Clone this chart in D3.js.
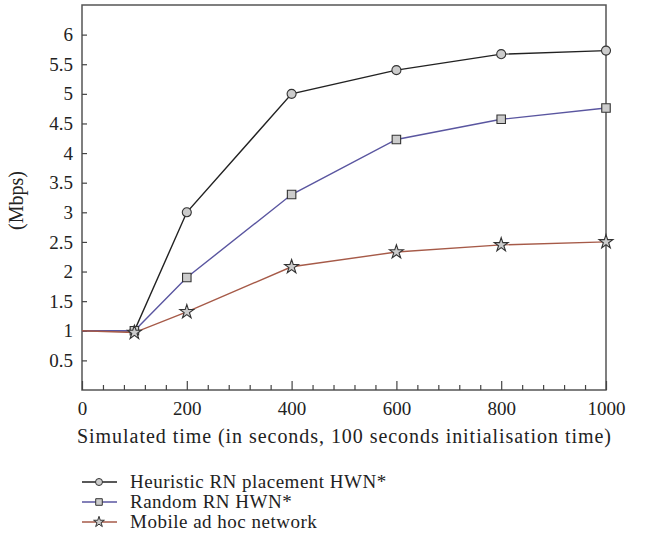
<!DOCTYPE html>
<html>
<head>
<meta charset="utf-8">
<script src="https://cdn.jsdelivr.net/npm/d3@7"></script>
<style>
  body { margin: 0; background: #fff; }
  svg text { font-family: "Liberation Serif", "DejaVu Serif", serif; }
</style>
</head>
<body>
<div id="chart"></div>
<script>
const times = [0, 100, 200, 400, 600, 800, 1000];
const heuristic = [1, 1, 3, 5, 5.4, 5.67, 5.73];
const random = [1, 1, 1.9, 3.3, 4.23, 4.57, 4.76];
const mobile = [1, 0.97, 1.32, 2.08, 2.33, 2.45, 2.5];
const xTicks = [0, 200, 400, 600, 800, 1000];
const yTicks = [0.5, 1, 1.5, 2, 2.5, 3, 3.5, 4, 4.5, 5, 5.5, 6];
const seriesNames = ["Heuristic RN placement HWN*", "Random RN HWN*", "Mobile ad hoc network"];

const width = 649;
const height = 558;
const margin = { top: 5, right: 43, bottom: 168, left: 82 };

const series = [
  { name: seriesNames[0], values: heuristic, color: "#222222", symbol: d3.symbolCircle, size: 64 },
  { name: seriesNames[1], values: random, color: "#5a56a0", symbol: d3.symbolSquare, size: 72 },
  { name: seriesNames[2], values: mobile, color: "#a65a48", symbol: d3.symbolStar, size: 60 },
];

const svg = d3.select("#chart").append("svg").attr("width", width).attr("height", height);

const x = d3.scaleLinear().domain([0, 1000]).range([margin.left, width - margin.right]);
const y = d3.scaleLinear().domain([0, 6.5]).range([height - margin.bottom, margin.top]);

// frame
svg
  .append("rect")
  .attr("x", x(0))
  .attr("y", y(6.5))
  .attr("width", x(1000) - x(0))
  .attr("height", y(0) - y(6.5))
  .attr("fill", "none")
  .attr("stroke", "#555")
  .attr("stroke-width", 1.5);

// x axis: minor ticks every 40, major every 200, all pointing inward
svg
  .append("g")
  .attr("transform", `translate(0,${y(0)})`)
  .call(d3.axisTop(x).tickValues(d3.range(40, 1000, 40).filter((v) => v % 200 !== 0)).tickSize(5).tickFormat(""))
  .call((g) => g.select(".domain").remove())
  .call((g) => g.selectAll("line").attr("stroke", "#444").attr("stroke-width", 1.2));

svg
  .append("g")
  .attr("transform", `translate(0,${y(0)})`)
  .call(d3.axisTop(x).tickValues(xTicks).tickSize(9).tickFormat(d3.format("d")))
  .call((g) => g.select(".domain").remove())
  .call((g) => g.selectAll("line").attr("stroke", "#444").attr("stroke-width", 1.2))
  .call((g) => g.selectAll("text").attr("y", 25).attr("font-size", 19).attr("fill", "#222"));

// y axis
svg
  .append("g")
  .attr("transform", `translate(${x(0)},0)`)
  .call(d3.axisRight(y).tickValues(yTicks).tickSize(5).tickFormat((d) => d))
  .call((g) => g.select(".domain").remove())
  .call((g) => g.selectAll("line").attr("stroke", "#444").attr("stroke-width", 1.2))
  .call((g) =>
    g
      .selectAll("text")
      .attr("x", -9)
      .attr("text-anchor", "end")
      .attr("font-size", 19)
      .attr("fill", "#222")
  );

// axis titles
svg
  .append("text")
  .attr("x", (x(0) + x(1000)) / 2)
  .attr("y", 443)
  .attr("text-anchor", "middle")
  .attr("font-size", 20)
  .attr("textLength", 534)
  .attr("lengthAdjust", "spacing")
  .attr("fill", "#222")
  .text("Simulated time (in seconds, 100 seconds initialisation time)");

svg
  .append("text")
  .attr("transform", `translate(23,${(y(0) + y(6.5)) / 2 + 3}) rotate(-90)`)
  .attr("text-anchor", "middle")
  .attr("font-size", 20)
  .attr("fill", "#222")
  .text("(Mbps)");

const line = d3
  .line()
  .x((d) => x(d[0]))
  .y((d) => y(d[1]));

series.forEach((s) => {
  s.points = times.map((t, i) => [t, s.values[i]]);
});

// lines (mobile last so the shared start segment is brown)
series.forEach((s) => {
  svg
    .append("path")
    .datum(s.points)
    .attr("fill", "none")
    .attr("stroke", s.color)
    .attr("stroke-width", 1.4)
    .attr("d", line);
});

// markers (none at t=0)
series.forEach((s) => {
  svg
    .append("g")
    .selectAll("path")
    .data(s.points.filter((d) => d[0] > 0))
    .join("path")
    .attr("transform", (d) => `translate(${x(d[0])},${y(d[1])})`)
    .attr("d", d3.symbol().type(s.symbol).size(s.size))
    .attr("fill", "#cccccc")
    .attr("stroke", "#333")
    .attr("stroke-width", 1.1);
});

// legend
const legend = svg
  .append("g")
  .selectAll("g")
  .data(series)
  .join("g")
  .attr("transform", (d, i) => `translate(82,${482 + i * 20})`);

legend
  .append("line")
  .attr("x1", 0)
  .attr("x2", 35)
  .attr("stroke", (d) => d.color)
  .attr("stroke-width", 1.4);

legend
  .append("path")
  .attr("transform", "translate(17,0)")
  .attr("d", (d) => d3.symbol().type(d.symbol).size(d.size * 0.6)())
  .attr("fill", "#cccccc")
  .attr("stroke", "#333")
  .attr("stroke-width", 1);

legend
  .append("text")
  .attr("x", 48)
  .attr("y", 6)
  .attr("font-size", 19)
  .attr("letter-spacing", 0.5)
  .attr("fill", "#222")
  .text((d) => d.name);
</script>
</body>
</html>
